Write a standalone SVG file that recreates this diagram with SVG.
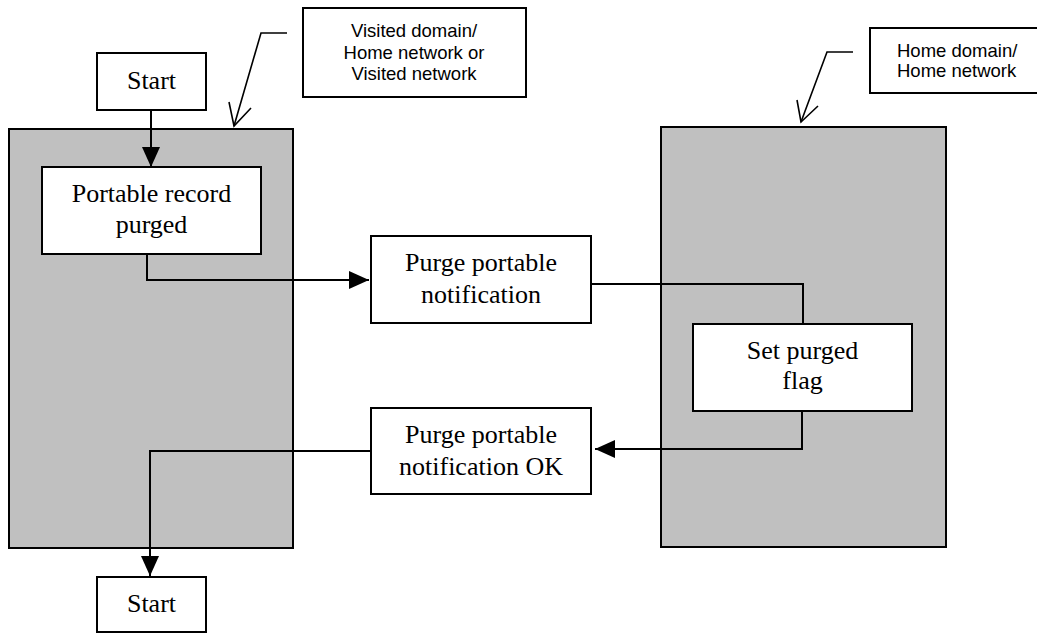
<svg xmlns="http://www.w3.org/2000/svg" width="1037" height="634" viewBox="0 0 1037 634">
<style>
.dom{fill:#c0c0c0;stroke:#000;stroke-width:2}
.box{fill:#fff;stroke:#000;stroke-width:2}
.t{font-family:"Liberation Serif","Times New Roman",serif;font-size:26px;fill:#000;text-anchor:middle}
.c{font-family:"Liberation Sans",Arial,sans-serif;font-size:18.5px;fill:#000}
.ln{fill:none;stroke:#000;stroke-width:2}
.ld{fill:none;stroke:#000;stroke-width:1.6}
</style>
<defs>
<marker id="ah" markerUnits="userSpaceOnUse" markerWidth="22" markerHeight="20" refX="20" refY="9" orient="auto">
<path d="M0,0 L20,9 L0,18 Z" fill="#000"/>
</marker>
</defs>
<g id="domains">
<rect id="visited-domain" class="dom" x="9" y="129" width="284" height="419"/>
<rect id="home-domain" class="dom" x="661" y="127" width="285" height="420"/>
</g>
<g id="callout-visited">
<rect class="box" x="303" y="8" width="223" height="89" stroke-width="1.6"/>
<text class="c" text-anchor="middle"><tspan x="414" y="37">Visited domain/</tspan><tspan x="414" y="59">Home network or</tspan><tspan x="414" y="80">Visited network</tspan></text>
<polyline class="ld" points="287,33 261,33 234,126"/>
<polyline class="ld" points="229,102 234,126 251,108"/>
</g>
<g id="callout-home">
<rect class="box" x="870" y="28" width="170" height="65" stroke-width="1.6"/>
<text class="c"><tspan x="897" y="57">Home domain/</tspan><tspan x="897" y="77">Home network</tspan></text>
<polyline class="ld" points="853,52 827,52 801,122"/>
<polyline class="ld" points="797,100 801,122 818,106"/>
</g>
<g id="start-top">
<rect class="box" x="97" y="53" width="109" height="57"/>
<text class="t" x="151.5" y="89">Start</text>
</g>
<g id="record-purged">
<rect class="box" x="42" y="167" width="219" height="87"/>
<text class="t"><tspan x="151.5" y="202">Portable record</tspan><tspan x="151.5" y="233">purged</tspan></text>
</g>
<g id="purge-notification">
<rect class="box" x="371" y="236" width="220" height="87"/>
<text class="t"><tspan x="481" y="271">Purge portable</tspan><tspan x="481" y="303">notification</tspan></text>
</g>
<g id="set-purged-flag">
<rect class="box" x="693" y="324" width="219" height="87"/>
<text class="t"><tspan x="802.5" y="359">Set purged</tspan><tspan x="802.5" y="389">flag</tspan></text>
</g>
<g id="purge-notification-ok">
<rect class="box" x="371" y="408" width="220" height="86"/>
<text class="t"><tspan x="481" y="443">Purge portable</tspan><tspan x="481" y="475">notification OK</tspan></text>
</g>
<g id="start-bottom">
<rect class="box" x="97" y="577" width="109" height="55"/>
<text class="t" x="151.5" y="612">Start</text>
</g>
<g id="connectors">
<polyline class="ln" points="151,110 151,167" marker-end="url(#ah)"/>
<polyline class="ln" points="147,254 147,280 369,280" marker-end="url(#ah)"/>
<polyline class="ln" points="591,284 803,284 803,324"/>
<polyline class="ln" points="802,411 802,449 595,449" marker-end="url(#ah)"/>
<polyline class="ln" points="371,451 150,451 150,576" marker-end="url(#ah)"/>
</g>
</svg>
